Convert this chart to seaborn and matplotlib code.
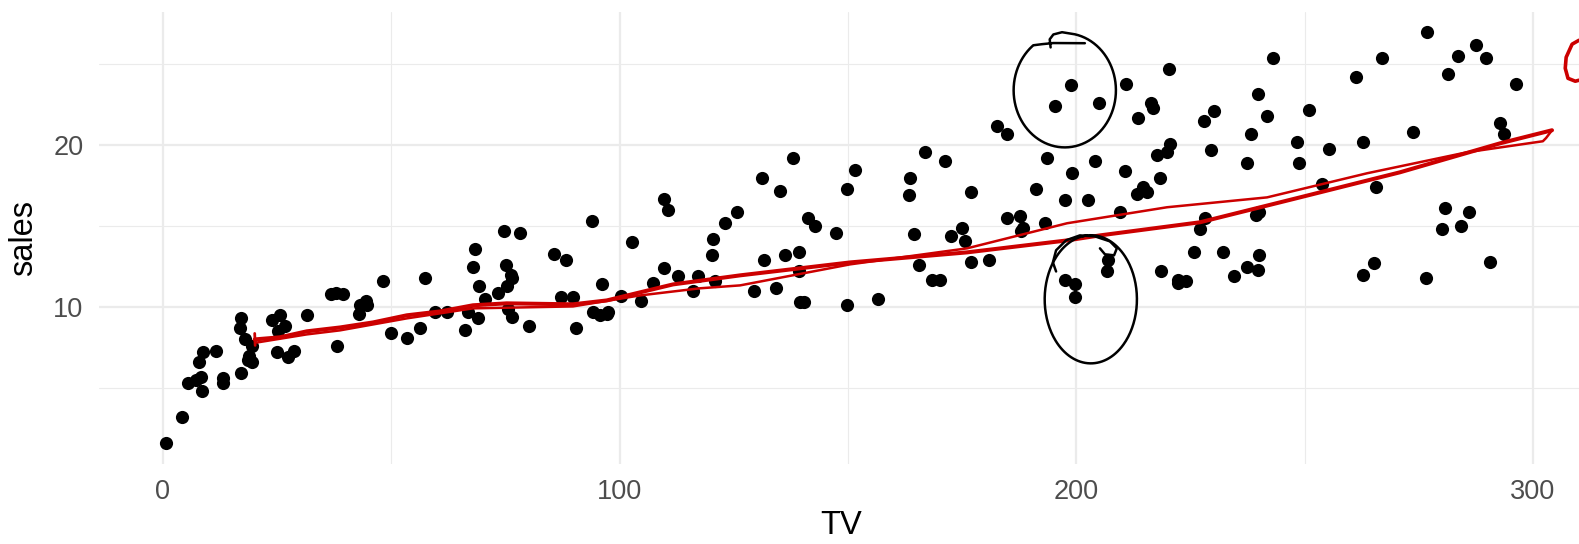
import numpy as np
import pandas as pd
import matplotlib
matplotlib.use("Agg")
import matplotlib.pyplot as plt
from matplotlib.ticker import FixedLocator
import seaborn as sns

# ---- data (Advertising: TV budget vs sales) ----
tv = [230.1, 44.5, 17.2, 151.5, 180.8, 8.7, 57.5, 120.2, 8.6, 199.8,
      66.1, 214.7, 23.8, 97.5, 204.1, 195.4, 67.8, 281.4, 69.2, 147.3,
      218.4, 237.4, 13.2, 228.3, 62.3, 262.9, 142.9, 240.1, 248.8, 70.6,
      292.9, 112.9, 97.2, 265.6, 95.7, 290.7, 266.9, 74.7, 43.1, 228.0,
      202.5, 177.0, 293.6, 206.9, 25.1, 175.1, 89.7, 239.9, 227.2, 66.9,
      199.8, 100.4, 216.4, 182.6, 262.7, 198.9, 7.3, 136.2, 210.8, 210.7,
      53.5, 261.3, 239.3, 102.7, 131.1, 69.0, 31.5, 139.3, 237.4, 216.8,
      199.1, 109.8, 26.8, 129.4, 213.4, 16.9, 27.5, 120.5, 5.4, 116.0,
      76.4, 239.8, 75.3, 68.4, 213.5, 193.2, 76.3, 110.7, 88.3, 109.8,
      134.3, 28.6, 217.7, 250.9, 107.4, 163.3, 197.6, 184.9, 289.7, 135.2,
      222.4, 296.4, 280.2, 187.9, 238.2, 137.9, 25.0, 90.4, 13.1, 255.4,
      225.8, 241.7, 175.7, 209.6, 78.2, 75.1, 139.2, 76.4, 125.7, 19.4,
      141.3, 18.8, 224.0, 123.1, 229.5, 87.2, 7.8, 80.2, 220.3, 59.6,
      0.7, 265.2, 8.4, 219.8, 36.9, 48.3, 25.6, 273.7, 43.0, 184.9,
      73.4, 193.7, 220.5, 104.6, 96.2, 140.3, 240.1, 243.2, 38.0, 44.7,
      280.7, 121.0, 197.6, 171.3, 187.8, 4.1, 93.9, 149.8, 11.7, 131.7,
      172.5, 85.7, 188.4, 163.5, 117.2, 234.5, 17.9, 206.8, 215.4, 284.3,
      50.0, 164.5, 19.6, 168.4, 222.4, 276.9, 248.4, 170.2, 276.7, 165.6,
      156.6, 218.5, 56.2, 287.6, 253.8, 205.0, 139.5, 191.1, 286.0, 18.7,
      39.5, 75.5, 17.2, 166.8, 149.7, 38.2, 94.2, 177.0, 283.6, 232.1]
sales = [22.1, 10.4, 9.3, 18.5, 12.9, 7.2, 11.8, 13.2, 4.8, 10.6,
         8.6, 17.4, 9.2, 9.7, 19.0, 22.4, 12.5, 24.4, 11.3, 14.6,
         18.0, 12.5, 5.6, 15.5, 9.7, 12.0, 15.0, 15.9, 18.9, 10.5,
         21.4, 11.9, 9.6, 17.4, 9.5, 12.8, 25.4, 14.7, 10.1, 21.5,
         16.6, 17.1, 20.7, 12.9, 8.5, 14.9, 10.6, 23.2, 14.8, 9.7,
         11.4, 10.7, 22.6, 21.2, 20.2, 23.7, 5.5, 13.2, 23.8, 18.4,
         8.1, 24.2, 15.7, 14.0, 18.0, 9.3, 9.5, 13.4, 18.9, 22.3,
         18.3, 12.4, 8.8, 11.0, 17.0, 8.7, 6.9, 14.2, 5.3, 11.0,
         11.8, 12.3, 11.3, 13.6, 21.7, 15.2, 12.0, 16.0, 12.9, 16.7,
         11.2, 7.3, 19.4, 22.2, 11.5, 16.9, 11.7, 15.5, 25.4, 17.2,
         11.7, 23.8, 14.8, 14.7, 20.7, 19.2, 7.2, 8.7, 5.3, 19.8,
         13.4, 21.8, 14.1, 15.9, 14.6, 12.6, 12.2, 9.4, 15.9, 6.6,
         15.5, 7.0, 11.6, 15.2, 19.7, 10.6, 6.6, 8.8, 24.7, 9.7,
         1.6, 12.7, 5.7, 19.6, 10.8, 11.6, 9.5, 20.8, 9.6, 20.7,
         10.9, 19.2, 20.1, 10.4, 11.4, 10.3, 13.2, 25.4, 10.9, 10.1,
         16.1, 11.6, 16.6, 19.0, 15.6, 3.2, 15.3, 10.1, 7.3, 12.9,
         14.4, 13.3, 14.9, 18.0, 11.9, 11.9, 8.0, 12.2, 17.1, 15.0,
         8.4, 14.5, 7.6, 11.7, 11.5, 27.0, 20.2, 11.7, 11.8, 12.6,
         10.5, 12.2, 8.7, 26.2, 17.6, 22.6, 10.3, 17.3, 15.9, 6.7,
         10.8, 9.9, 5.9, 19.6, 17.3, 7.6, 9.7, 12.8, 25.5, 13.4]

x_ticks = [0, 100, 200, 300]
y_ticks = [10, 20]
x_minor = [50, 150, 250]
y_minor = [5, 15, 25]

# ---- hand-drawn annotations (data units) ----
pen_thick_x = [20.1, 25.6, 31.5, 38.8, 46.0, 53.4, 60.7, 67.9, 75.3, 89.8, 97.2,
               104.5, 111.7, 126.4, 150.5, 176.1, 198.0, 205.2, 227.1, 249.0,
               270.9, 292.8, 304.2]
pen_thick_y = [8.00, 8.13, 8.50, 8.74, 9.05, 9.49, 9.73, 10.11, 10.23, 10.17, 10.41,
               10.91, 11.40, 11.96, 12.76, 13.38, 14.12, 14.43, 15.24, 16.78,
               18.33, 20.12, 20.93]
pen_thin_x = [20.6, 31.5, 38.8, 53.4, 67.9, 89.8, 104.5, 117.6, 126.4, 150.5,
              176.1, 198.0, 219.9, 241.8, 263.7, 285.6, 302.2, 302.9, 304.2]
pen_thin_y = [7.81, 8.31, 8.56, 9.30, 9.92, 10.04, 10.72, 11.16, 11.34, 12.64,
              13.63, 15.18, 16.17, 16.78, 18.27, 19.57, 20.25, 20.45, 20.93]
tick_mark_x = [20.1, 20.2]
tick_mark_y = [8.37, 7.63]
swirl_x = [310.1, 308.6, 307.3, 307.1, 307.7, 309.3, 310.1]
swirl_y = [26.49, 26.25, 25.44, 24.76, 24.14, 23.96, 24.02]

circle1 = dict(cx=197.5, cy=23.40, rx=11.2, ry=3.53, a0=80, a1=-232)
hook1_start_x = [194.4, 194.2, 195.0, 196.9]
hook1_start_y = [26.05, 26.55, 26.85, 26.99]
hook1_end_x = [192.5, 195.0, 201.9]
hook1_end_y = [26.25, 26.32, 26.31]
circle2 = dict(cx=203.2, cy=10.48, rx=10.1, ry=3.96, a0=100, a1=-265)
hook2_x = [195.6, 194.9, 195.6, 197.8, 200.8, 204.1, 207.4, 208.9, 208.3, 206.3, 205.2]
hook2_y = [12.20, 12.76, 13.51, 14.13, 14.43, 14.37, 14.06, 13.63, 13.20, 13.26, 13.63]

df = pd.DataFrame({"TV": tv, "sales": sales})

sns.set_theme(style="whitegrid")
plt.rcParams["font.family"] = ["Liberation Sans", "DejaVu Sans"]

W, H = 1579, 544
fig = plt.figure(figsize=(W / 100, H / 100), dpi=100)
ax = fig.add_axes([98.6 / W, 1 - 463.5 / H, 1485.3 / W, 452.0 / H])

sns.scatterplot(data=df, x="TV", y="sales", ax=ax, color="black", s=90,
                linewidth=0, zorder=3)

xr = max(tv) - min(tv)
yr = max(sales) - min(sales)
ax.set_xlim(min(tv) - 0.05 * xr, max(tv) + 0.05 * xr)
ax.set_ylim(min(sales) - 0.05 * yr, max(sales) + 0.05 * yr)

ax.xaxis.set_major_locator(FixedLocator(x_ticks))
ax.yaxis.set_major_locator(FixedLocator(y_ticks))
ax.xaxis.set_minor_locator(FixedLocator(x_minor))
ax.yaxis.set_minor_locator(FixedLocator(y_minor))
ax.grid(which="major", color="#EBEBEB", linewidth=1.6)
ax.grid(which="minor", color="#EBEBEB", linewidth=0.8)
ax.set_axisbelow(True)
for s in ax.spines.values():
    s.set_visible(False)
ax.set_facecolor("white")
ax.tick_params(axis="both", which="both", length=0, labelsize=19.5,
               labelcolor="#4D4D4D")
ax.tick_params(axis="x", pad=11)
ax.tick_params(axis="y", pad=11)
ax.set_xlabel("TV", fontsize=23.5, color="black", labelpad=4)
ax.set_ylabel("sales", fontsize=23.5, color="black", labelpad=10)

red = "#CC0000"
ax.plot(pen_thick_x, pen_thick_y, color=red, lw=2.9, solid_capstyle="round",
        solid_joinstyle="round", zorder=4)
ax.plot(pen_thin_x, pen_thin_y, color=red, lw=1.8, solid_capstyle="round",
        solid_joinstyle="round", zorder=4)
ax.plot(tick_mark_x, tick_mark_y, color=red, lw=2.0, zorder=4)
ax.plot(swirl_x, swirl_y, color=red, lw=2.6, solid_capstyle="round",
        clip_on=False, zorder=4)


def ellipse_arc(c):
    t = np.deg2rad(np.linspace(c["a0"], c["a1"], 240))
    return c["cx"] + c["rx"] * np.cos(t), c["cy"] + c["ry"] * np.sin(t)


ex, ey = ellipse_arc(circle1)
path1_x = np.concatenate([hook1_start_x, ex, hook1_end_x])
path1_y = np.concatenate([hook1_start_y, ey, hook1_end_y])
ax.plot(path1_x, path1_y, color="black", lw=1.8, zorder=5,
        solid_joinstyle="round", solid_capstyle="round")

ex2, ey2 = ellipse_arc(circle2)
ax.plot(ex2, ey2, color="black", lw=1.8, zorder=5)
ax.plot(hook2_x, hook2_y, color="black", lw=1.8, zorder=5,
        solid_joinstyle="round", solid_capstyle="round")

fig.savefig("out.png", dpi=100, facecolor="white")
